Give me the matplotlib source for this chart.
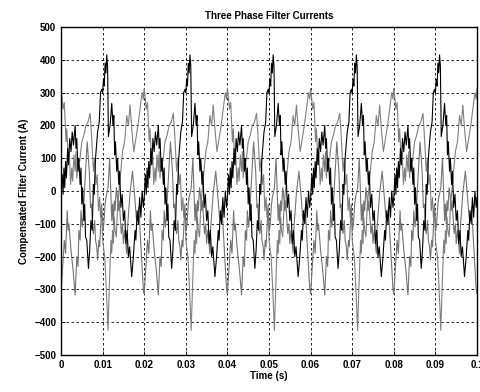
import numpy as np
import matplotlib.pyplot as plt

plt.rcParams['font.family'] = ['Liberation Sans', 'DejaVu Sans']

# one fundamental cycle (20 ms) of each compensating current, repeated 5 times
period_ms = 20.0
n_cycles = 5

phase_a_t = [0.0, 0.3, 0.5, 0.7, 0.9, 1.1, 1.3, 1.6, 1.8, 2.1, 2.4, 2.7, 3.0, 3.4,
             3.6, 3.8, 4.1, 4.3, 4.6, 4.8, 5.0, 5.2, 5.5, 5.7, 5.9, 6.2, 6.6,
             6.9, 7.2, 7.5, 7.8, 8.0, 8.3, 8.8, 9.2, 9.5, 9.8, 10.0, 10.2, 10.4,
             10.6, 10.8, 11.0, 11.2, 11.4, 11.8, 12.2, 12.5, 12.7, 12.9, 13.1,
             13.4, 13.6, 13.9, 14.1, 14.4, 14.7, 15.0, 15.3, 15.6, 15.9, 16.2,
             16.5, 17.0, 17.4, 17.8, 18.0, 18.3, 18.6, 18.9, 19.2, 19.5, 19.8]
phase_a_i = [-20, 50, -10, 70, 10, 90, 40, 130, 80, 160, 120, 180, 140, 200,
             130, 160, 60, 100, 20, 70, -40, 10, -90, -40, -140, -150, -236,
             -180, -90, -120, 20, -10, 100, 180, 210, 300, 310, 300, 340, 320,
             390, 360, 415, 380, 166, 200, 267, 200, 230, 110, 150,
             60, 100, 20, 60, -50, -10, -90, -60, -160, -120, -200,
             -170, -261, -200, -120, -150, -60, -100, -20, -80, 0, -50]

phase_b_t = [0.0, 0.2, 0.5, 0.8, 1.2, 1.4, 1.8, 2.0, 2.3, 2.6, 2.8, 3.1, 3.4,
             3.6, 3.8, 4.1, 4.5, 5.0, 5.5, 6.0, 6.5, 7.0, 7.3, 7.8, 8.1, 8.4,
             8.7, 9.0, 9.3, 9.5, 9.8, 10.0, 10.5, 10.9, 11.3, 11.6, 12.0, 12.2,
             12.4, 12.6, 12.8, 13.0, 13.3, 13.6, 13.8, 14.3, 14.8, 15.3, 15.8,
             16.2, 16.6, 17.0, 17.5, 18.0, 18.5, 19.0, 19.5, 19.8]
phase_b_i = [313, 290, 250, 270, 150, 190, 80, 120, 20, 70, 30, 110, 60,
             120, 40, 100, 90, 150, 170, 200, 210, 237, 180, 60, 100, 20,
             50, -60, -20, -80, -40, -150, -200, -300, -425, -300, -150, -190,
             -120, -160, -80, -120, -140, -50, -20, 50, 120, 150, 230,
             200, 262, 190, 120, 160, 200, 250, 300, 280]

phase_c_t = [0.0, 0.4, 0.8, 1.1, 1.5, 1.7, 1.9, 2.4, 2.9, 3.4, 3.8, 4.1, 4.3,
             4.6, 4.8, 5.1, 5.3, 5.6, 5.8, 6.3, 6.8, 7.1, 7.3, 7.6, 7.8, 8.1,
             8.3, 8.6, 8.8, 9.1, 9.3, 9.6, 9.8, 10.1, 10.3, 10.6, 10.8, 11.3,
             11.7, 12.2, 12.4, 12.6, 12.8, 13.0, 13.3, 13.5, 13.8, 14.0, 14.3,
             14.5, 14.8, 15.0, 15.3, 15.5, 15.8, 16.0, 16.6, 17.2, 17.8, 18.1,
             18.4, 18.7, 19.0, 19.5, 19.8]
phase_c_i = [-313, -230, -150, -190, -60, -120, -100, -180, -240, -317, -200,
             -230, -120, -150, -60, -110, -80, -10, 40, 150, 60, -50, -40,
             -110, -130, -90, -150, -170, -210, -150, -170, -90, -60, -120, -100,
             -40, -20, 10, 100, -90, -40, -100, -30, -60, 10, -10, -60, -30,
             -90, -130, -100, -160, -120, -150, -190, -110, -5, 60, -30, -80,
             -90, -50, -120, -230, -300]

x_ticks = [0, 0.01, 0.02, 0.03, 0.04, 0.05, 0.06, 0.07, 0.08, 0.09, 0.1]
x_labels = ['0', '0.01', '0.02', '0.03', '0.04', '0.05', '0.06', '0.07', '0.08', '0.09', '0.1']
y_ticks = [-500, -400, -300, -200, -100, 0, 100, 200, 300, 400, 500]


def repeat_cycle(t_ms, vals):
    t = np.concatenate([np.array(t_ms) + k * period_ms for k in range(n_cycles)])
    v = np.tile(vals, n_cycles)
    t = np.append(t, n_cycles * period_ms)
    v = np.append(v, vals[0])
    return t / 1000.0, v


fig = plt.figure(figsize=(4.81, 3.92), dpi=100)
ax = fig.add_axes([0.1268, 0.0944, 0.8649, 0.8367])

for t_ms, vals, col in [(phase_b_t, phase_b_i, '0.5'),
                        (phase_c_t, phase_c_i, '0.45'),
                        (phase_a_t, phase_a_i, 'k')]:
    t, v = repeat_cycle(t_ms, vals)
    ax.plot(t, v, color=col, linewidth=0.8)

ax.set_xlim(0, 0.1)
ax.set_ylim(-500, 500)
ax.set_xticks(x_ticks)
ax.set_xticklabels(x_labels)
ax.set_yticks(y_ticks)
ax.grid(True, color='k', linestyle=(0, (3, 3)), linewidth=0.6)
ax.tick_params(direction='in', length=3, labelsize=7, width=0.6)
for lbl in ax.get_xticklabels() + ax.get_yticklabels():
    lbl.set_fontweight('bold')
for s in ax.spines.values():
    s.set_linewidth(1.0)

ax.set_title('Three Phase Filter Currents', fontsize=7, fontweight='bold', pad=6)
ax.set_xlabel('Time (s)', fontsize=7, fontweight='bold', labelpad=1)
ax.set_ylabel('Compensated Filter Current (A)', fontsize=7, fontweight='bold', labelpad=4)

fig.savefig('out.png', dpi=100)
